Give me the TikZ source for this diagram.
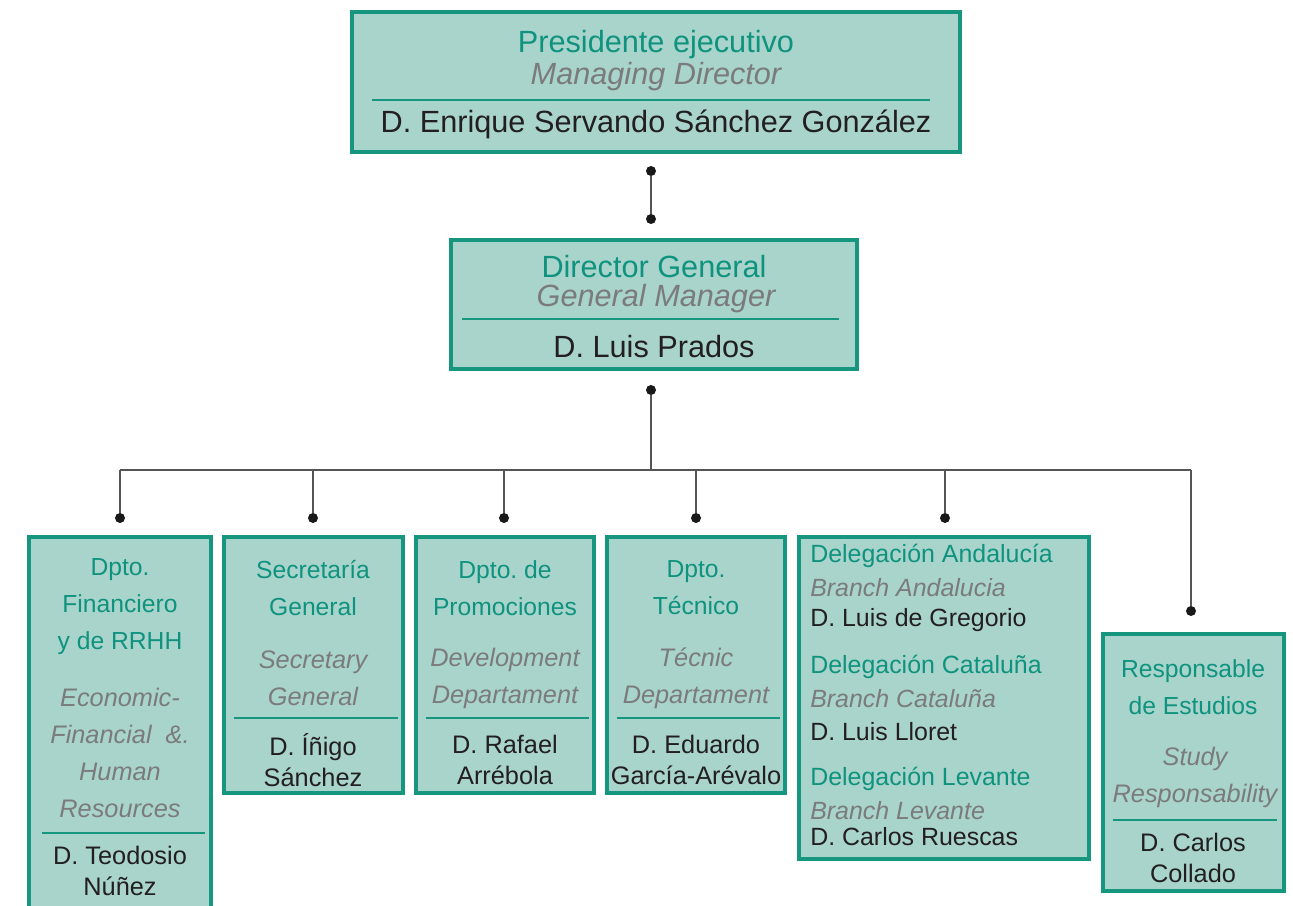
\documentclass[tikz,border=0pt]{standalone}
\usepackage{fontspec}
\setmainfont{Liberation Sans}
\usetikzlibrary{fit}
\definecolor{boxfill}{HTML}{A8D4CC}
\definecolor{boxedge}{HTML}{17967F}
\definecolor{titlec}{HTML}{0F937E}
\definecolor{engc}{HTML}{7B7B7B}
\definecolor{namec}{HTML}{231F20}
\definecolor{linec}{HTML}{555555}
\frenchspacing
\begin{document}
\begin{tikzpicture}[x=0.75pt,y=-0.75pt,
  box/.style={draw=boxedge, line width=2.3pt, fill=boxfill, inner sep=0pt},
  sepline/.style={draw=boxedge, line width=0.8pt},
  conn/.style={draw=linec, line width=1.1pt},
  dot/.style={circle, fill=black!90, inner sep=0pt, minimum size=7.5pt},
  txt/.style={inner sep=0pt, align=center},
  topttl/.style={txt, text=titlec, font=\fontsize{23}{23.25}\selectfont},
  topeng/.style={txt, text=engc, font=\fontsize{23}{23.25}\selectfont\itshape},
  topnm/.style={txt, text=namec, font=\fontsize{23}{23.25}\selectfont},
  dttl/.style={txt, text=titlec, font=\fontsize{18.5}{27.75}\selectfont},
  deng/.style={txt, text=engc, font=\fontsize{19}{27.75}\selectfont\itshape},
  dnm/.style={txt, text=namec, font=\fontsize{19}{23.6}\selectfont},
  lttl/.style={inner sep=0pt, anchor=west, text=titlec, font=\fontsize{18.7}{22}\selectfont},
  leng/.style={inner sep=0pt, anchor=west, text=engc, font=\fontsize{18.7}{22}\selectfont\itshape},
  lnm/.style={inner sep=0pt, anchor=west, text=namec, font=\fontsize{18.7}{22}\selectfont},
]
\useasboundingbox (0,0) rectangle (1293,906);
\clip (0,0) rectangle (1293,906);

% ---------- top box
\node[box, fit={(352,12) (960,152)}] (pres) {};
\node[topttl] (presT) at (656,45) {Presidente ejecutivo};
\node[topeng] (presE) at (656,77) {Managing Director};
\draw[sepline] (372,100) -- (930,100);
\node[topnm] (presN) at (656,124) {D. Enrique Servando Sánchez González};

% ---------- director box
\node[box, fit={(451,240) (857,369)}] (dir) {};
\node[topttl] (dirT) at (654,267) {Director General};
\node[topeng] (dirE) at (656,299) {General Manager};
\draw[sepline] (462,319) -- (839,319);
\node[topnm] (dirN) at (654,347) {D. Luis Prados};

% ---------- dots and connectors
\node[dot] (p1) at (651,171) {};
\node[dot] (p2) at (651,219) {};
\draw[conn] (p1) -- (p2);
\node[dot] (p3) at (651,390) {};
\coordinate (bm) at (651,470);
\draw[conn] (p3) -- (bm);
\coordinate (b1) at (120,470);
\coordinate (b2) at (313,470);
\coordinate (b3) at (504,470);
\coordinate (b4) at (696,470);
\coordinate (b5) at (945,470);
\coordinate (b6) at (1191,470);
\draw[conn] (b1) -- (b6);
\node[dot] (q1) at (120,518) {};
\node[dot] (q2) at (313,518) {};
\node[dot] (q3) at (504,518) {};
\node[dot] (q4) at (696,518) {};
\node[dot] (q5) at (945,518) {};
\node[dot] (q6) at (1191,611) {};
\draw[conn] (b1) -- (q1);
\draw[conn] (b2) -- (q2);
\draw[conn] (b3) -- (q3);
\draw[conn] (b4) -- (q4);
\draw[conn] (b5) -- (q5);
\draw[conn] (b6) -- (q6);

% ---------- Dpto Financiero
\node[box, fit={(29,537) (211,920)}] (fin) {};
\node[dttl] (finT) at (120,607) {Dpto.\\Financiero\\y de RRHH};
\node[deng] (finE) at (120,753) {Economic-\\Financial~~\&.\\Human\\Resources};
\draw[sepline] (42,833) -- (205,833);
\node[dnm] (finN) at (120,871) {D. Teodosio\\Núñez};

% ---------- Secretaria General
\node[box, fit={(224,537) (403,793)}] (sec) {};
\node[dttl] (secT) at (313,588) {Secretaría\\General};
\node[deng] (secE) at (313,678) {Secretary\\General};
\draw[sepline] (234,718) -- (398,718);
\node[dnm] (secN) at (313,760) {D. Íñigo\\Sánchez};

% ---------- Promociones
\node[box, fit={(416,537) (594,793)}] (pro) {};
\node[dttl] (proT) at (505,588) {Dpto. de\\Promociones};
\node[deng] (proE) at (505,678) {Development\\Departament};
\draw[sepline] (426,718) -- (589,718);
\node[dnm] (proN) at (505,760) {D. Rafael\\Arrébola};

% ---------- Tecnico
\node[box, fit={(607,537) (785,793)}] (tec) {};
\node[dttl] (tecT) at (696,588) {Dpto.\\Técnico};
\node[deng] (tecE) at (696,678) {Técnic\\Departament};
\draw[sepline] (617,718) -- (780,718);
\node[dnm] (tecN) at (696,760) {D. Eduardo\\García-Arévalo};

% ---------- Delegaciones
\node[box, fit={(799,537) (1089,859)}] (del) {};
\node[lttl] (d1) at (810,556) {Delegación Andalucía};
\node[leng] (d2) at (810,588) {Branch Andalucia};
\node[lnm]  (d3) at (810,620) {D. Luis de Gregorio};
\node[lttl] (d4) at (810,667) {Delegación Cataluña};
\node[leng] (d5) at (810,699) {Branch Cataluña};
\node[lnm]  (d6) at (810,732) {D. Luis Lloret};
\node[lttl] (d7) at (810,779) {Delegación Levante};
\node[leng] (d8) at (810,811) {Branch Levante};
\node[lnm]  (d9) at (810,837) {D. Carlos Ruescas};

% ---------- Responsable de Estudios
\node[box, fit={(1103,634) (1284,891)}] (res) {};
\node[dttl] (resT) at (1193,687) {Responsable\\de Estudios};
\node[deng] (resE) at (1195,777) {Study\\Responsability};
\draw[sepline] (1113,820) -- (1277,820);
\node[dnm] (resN) at (1193,858) {D. Carlos\\Collado};
\end{tikzpicture}
\end{document}
